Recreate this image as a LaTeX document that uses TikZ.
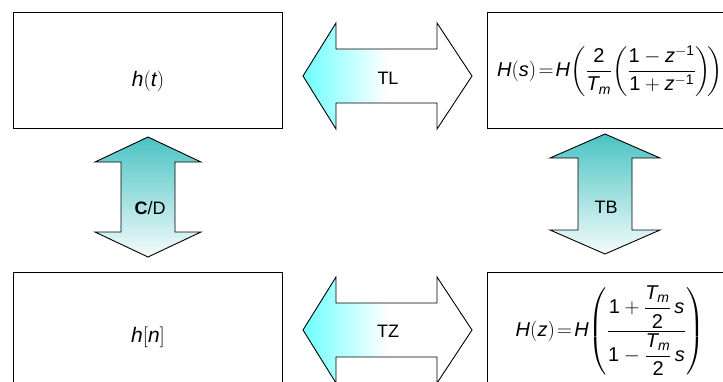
\documentclass[tikz,border=0pt]{standalone}
\usepackage{amsmath}
\usepackage{fontspec}
\setmainfont{Liberation Sans}
\usetikzlibrary{shapes,positioning}

\definecolor{hcyan}{RGB}{110,255,255}
\definecolor{vteal}{RGB}{75,195,195}
\newcommand{\di}[1]{\text{#1}}

\begin{document}
\begin{tikzpicture}[x=1pt, y=-1pt,
  box/.style={
    draw, rectangle, line width=1pt, minimum width=269pt, minimum height=116pt,
    inner sep=0pt
  },
  harrow/.style={draw, line width=0.9pt, left color=hcyan, right color=white, middle color=white},
  varrow/.style={draw, line width=0.9pt, top color=vteal, bottom color=vteal!6},
  lbl/.style={font=\fontsize{18}{21}\selectfont},
  sig/.style={font=\fontsize{21}{24}\selectfont, anchor=base},
  eq/.style={font=\fontsize{20}{24}\selectfont},
]
\useasboundingbox (0,0) rectangle (723,381);
\clip (0,0) rectangle (723,381);

% the four boxes
\node[box] (ht) at (148,70) {};
\node[box, minimum width=246pt] (hs) at (610,70) {};
\node[box] (hn) at (148,330) {};
\node[box, minimum width=246pt] (hz) at (610,330) {};

\node[sig] (ttext) at (148,86) {$\mathit{h}(\mathit{t})$};
\node[sig] (ntext) at (148,342) {$\mathit{h}[\mathit{n}]$};

\node[eq] (seq) at (610,71)
  {$\mathit{H}\!\left(\mathit{s}\right)\!=\!\mathit{H}\!\left(\dfrac{\di{2}}{\mathit{T}_{\mathit{m}}}\!
   \left(\dfrac{\di{1}-\mathit{z}^{-\di{1}}}{\di{1}+\mathit{z}^{-\di{1}}}\right)\!\right)$};
\node[eq] (zeq) at (610,331)
  {$\mathit{H}\!\left(\mathit{z}\right)\!=\!\mathit{H}\!\left(\dfrac{\di{1}+\dfrac{\mathit{T}_{\mathit{m}}}{\di{2}}\,\mathit{s}}
   {\di{1}-\dfrac{\mathit{T}_{\mathit{m}}}{\di{2}}\,\mathit{s}}\right)$};

% the four transforms
\draw[harrow] (303,76) -- (336,23) -- (336,49) -- (437,49) -- (437,23) -- (472,76)
  -- (437,129) -- (437,103) -- (336,103) -- (336,129) -- cycle;
\draw[harrow] (303,330) -- (336,277) -- (336,303) -- (437,303) -- (437,277) -- (472,330)
  -- (437,383) -- (437,357) -- (336,357) -- (336,383) -- cycle;
\draw[varrow] (148,137) -- (201,162) -- (175,162) -- (175,232) -- (201,232) -- (148,257)
  -- (95,232) -- (121,232) -- (121,162) -- (95,162) -- cycle;
\draw[varrow] (605,134) -- (660,158) -- (632,158) -- (632,230) -- (660,230) -- (605,254)
  -- (550,230) -- (578,230) -- (578,158) -- (550,158) -- cycle;

\node[lbl] (tl) at (388,78) {TL};
\node[lbl] (tz) at (388,331) {TZ};
\node[lbl] (cd) at (150,208) {\textbf{C}/D};
\node[lbl] (tb) at (606,207) {TB};

\end{tikzpicture}
\end{document}
